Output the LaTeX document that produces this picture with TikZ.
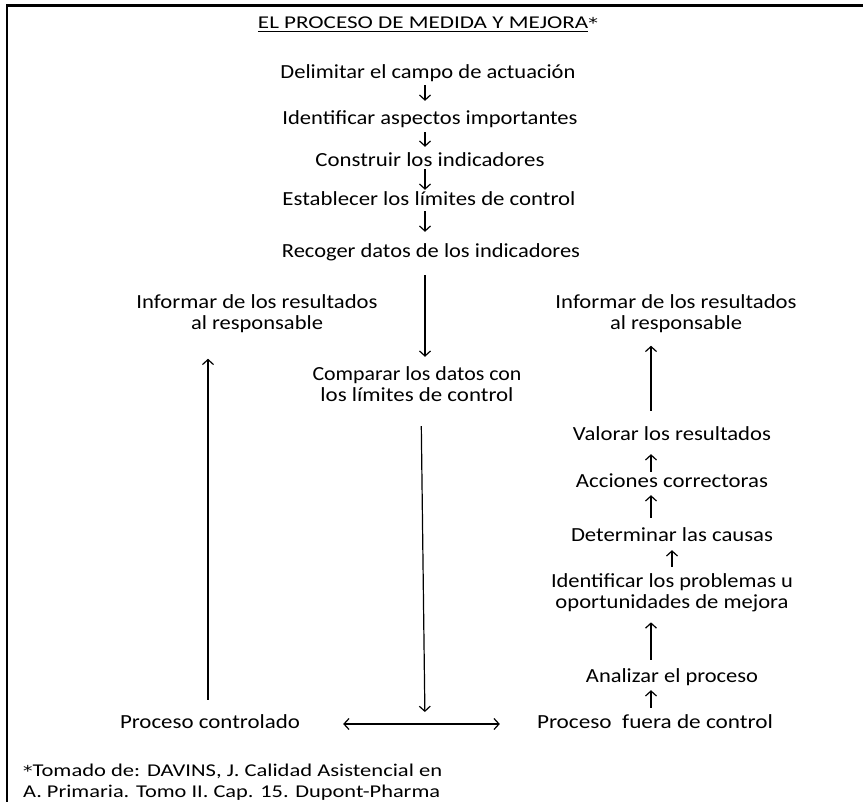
\documentclass[tikz,border=0pt]{standalone}
\usepackage{fontspec}
\setmainfont{Carlito}
\newfontfamily\astfont{DejaVu Sans}
\usepackage{graphicx}
\usetikzlibrary{arrows.meta}
\newcommand\fitw[2]{\resizebox{#1pt}{\height}{#2}}
\newcommand\myul[1]{\vtop{\hbox{#1}\kern2pt\hrule height 1.2pt}}
\newcommand\myast{{\astfont\fontsize{15}{15}\selectfont *}}
\begin{document}
\begin{tikzpicture}[x=1pt,y=-1pt,
  lbl/.style={inner sep=0pt, font=\fontsize{20}{21}\selectfont, text height=13pt, text depth=4pt, anchor=base},
  lbltwo/.style={inner sep=0pt, font=\fontsize{20}{21}\selectfont, align=center, anchor=center},
  foot/.style={inner sep=0pt, font=\fontsize{18}{21}\selectfont, anchor=base west},
  arr/.style={line width=1.2pt, -{Straight Barb[length=5pt,width=11pt]}},
  darr/.style={line width=1.2pt, {Straight Barb[length=5pt,width=11pt]}-{Straight Barb[length=5pt,width=11pt]}}]
\useasboundingbox (0,0) rectangle (863,802);
\fill[white] (0,0) rectangle (863,802);
% frame
\draw[line width=2.5pt] (7.2,802) -- (7.2,5.5) -- (863,5.5);
% title
\node[lbl, font=\fontsize{18}{20}\selectfont, text height=12pt] (title) at (428,28.8) {\fitw{340}{\myul{EL PROCESO DE MEDIDA Y MEJORA}\myast}};
% central column
\node[lbl] (delim)  at (428,78.5)  {\fitw{295}{Delimitar el campo de actuación}};
\node[lbl] (ident)  at (430,124.5) {\fitw{295}{Identificar aspectos importantes}};
\node[lbl] (constr) at (430,166.5) {\fitw{229}{Construir los indicadores}};
\node[lbl] (estab)  at (429,205.5) {\fitw{293}{Establecer los límites de control}};
\node[lbl] (recog)  at (431,257.5) {\fitw{298}{Recoger datos de los indicadores}};
\node[lbltwo] (comp) at (417,384.5) {\fitw{209}{Comparar los datos con}\\\fitw{193}{los límites de control}};
% left
\node[lbltwo] (infL) at (257,313.5) {\fitw{241}{Informar de los resultados}\\\fitw{132}{al responsable}};
\node[lbl] (pc) at (210,728.5) {\fitw{180}{Proceso controlado}};
% right
\node[lbltwo] (infR) at (676,313.5) {\fitw{241}{Informar de los resultados}\\\fitw{132}{al responsable}};
\node[lbl] (valor) at (672,440.5) {\fitw{198}{Valorar los resultados}};
\node[lbl] (acc)   at (672,487.5) {\fitw{192}{Acciones correctoras}};
\node[lbl] (det)   at (672,541.5) {\fitw{202}{Determinar las causas}};
\node[lbltwo] (idp) at (672,593) {\fitw{242}{Identificar los problemas u}\\\fitw{233}{oportunidades de mejora}};
\node[lbl] (anal)  at (672,682.5) {\fitw{172}{Analizar el proceso}};
\node[lbl] (pf)    at (655,728.5) {\fitw{236}{Proceso\ \ fuera de control}};
% footnote
\node[foot] (fn1) at (23,776) {\fitw{419}{\myast Tomado de: DAVINS, J. Calidad Asistencial en}};
\node[foot] (fn2) at (23,797) {\fitw{417}{A. Primaria. Tomo II. Cap. 15. Dupont-Pharma}};
% x positions of connectors
\coordinate (xc) at (425,0);
\coordinate (xct) at (421,0);
\coordinate (xl) at (208,0);
\coordinate (xr) at (651,0);
\coordinate (xr2) at (672,0);
\coordinate (dmid) at (425,722);
% central arrows
\draw[arr, shorten <=2.5pt, shorten >=10.5pt] (xc |- delim.south) -- (xc |- ident.north);
\draw[arr, shorten <=3.5pt, shorten >=6.5pt] (xc |- ident.south) -- (xc |- constr.north);
\draw[arr, shorten <=-1.5pt, shorten >=2.5pt] (xc |- constr.south) -- (xc |- estab.north);
\draw[arr, shorten <=1.5pt, shorten >=12.5pt] (xc |- estab.south) -- (xc |- recog.north);
\draw[arr, shorten <=13.5pt, shorten >=10pt] (xc |- recog.south) -- (xc |- comp.north);
\draw[arr, shorten <=24pt, shorten >=10pt] (xct |- comp.south) -- (dmid);
% left
\draw[arr, shorten <=15.5pt, shorten >=26pt] (xl |- pc.north) -- (xl |- infL.south);
% bottom double arrow
\draw[darr, shorten <=43pt, shorten >=37pt] (pc.east) -- (pf.west);
% right column
\draw[arr, shorten <=7.5pt, shorten >=3.5pt] (xr |- pf.north) -- (xr |- anal.south);
\draw[arr, shorten <=9.5pt, shorten >=10pt] (xr |- anal.north) -- (xr |- idp.south);
\draw[arr, shorten <=7pt, shorten >=4.5pt] (xr2 |- idp.north) -- (xr2 |- det.south);
\draw[arr, shorten <=10.5pt, shorten >=3.5pt] (xr |- det.north) -- (xr |- acc.south);
\draw[arr, shorten <=2.5pt, shorten >=9.5pt] (xr |- acc.north) -- (xr |- valor.south);
\draw[arr, shorten <=16.5pt, shorten >=13pt] (xr |- valor.north) -- (xr |- infR.south);
\end{tikzpicture}
\end{document}
